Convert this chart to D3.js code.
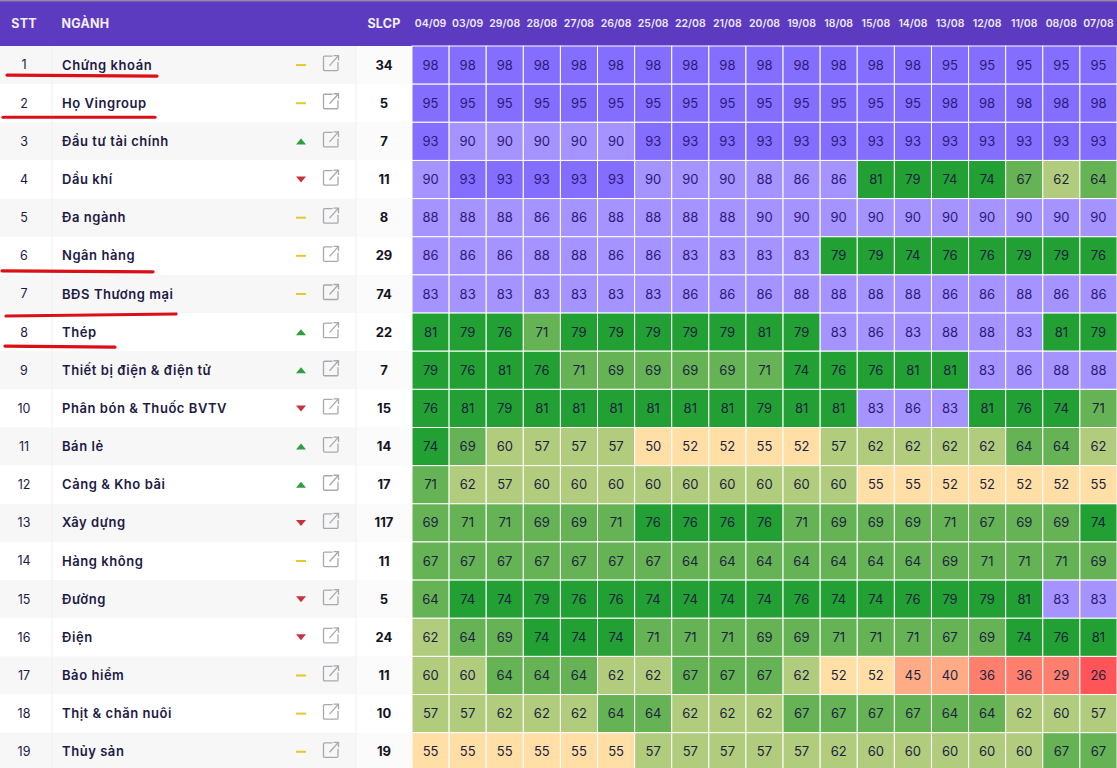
<!DOCTYPE html>
<html lang="vi">
<head>
<meta charset="utf-8">
<script src="https://cdn.jsdelivr.net/npm/d3@7"></script>
<style>
html,body{margin:0;padding:0;background:#fff;overflow:hidden}
svg{display:block}
text{font-family:"Inter","Noto Sans",sans-serif}
</style>
</head>
<body>
<svg id="chart" width="1117" height="768"></svg>
<script>
const dates = ["04/09","03/09","29/08","28/08","27/08","26/08","25/08","22/08","21/08","20/08","19/08","18/08","15/08","14/08","13/08","12/08","11/08","08/08","07/08"];
const sectors = ["Chứng khoán","Họ Vingroup","Đầu tư tài chính","Dầu khí","Đa ngành","Ngân hàng","BĐS Thương mại","Thép","Thiết bị điện & điện tử","Phân bón & Thuốc BVTV","Bán lẻ","Cảng & Kho bãi","Xây dựng","Hàng không","Đường","Điện","Bảo hiểm","Thịt & chăn nuôi","Thủy sản"];
const stockCounts = [34,5,7,11,8,29,74,22,7,15,14,17,117,11,5,24,11,10,19];
const trends = ["flat","flat","up","down","flat","flat","flat","up","up","down","up","up","down","flat","down","down","flat","flat","flat"];
const scores = [
[98,98,98,98,98,98,98,98,98,98,98,98,98,98,95,95,95,95,95],
[95,95,95,95,95,95,95,95,95,95,95,95,95,95,98,98,98,98,98],
[93,90,90,90,90,90,93,93,93,93,93,93,93,93,93,93,93,93,93],
[90,93,93,93,93,93,90,90,90,88,86,86,81,79,74,74,67,62,64],
[88,88,88,86,86,88,88,88,88,90,90,90,90,90,90,90,90,90,90],
[86,86,86,88,88,86,86,83,83,83,83,79,79,74,76,76,79,79,76],
[83,83,83,83,83,83,83,86,86,86,88,88,88,88,86,86,88,86,86],
[81,79,76,71,79,79,79,79,79,81,79,83,86,83,88,88,83,81,79],
[79,76,81,76,71,69,69,69,69,71,74,76,76,81,81,83,86,88,88],
[76,81,79,81,81,81,81,81,81,79,81,81,83,86,83,81,76,74,71],
[74,69,60,57,57,57,50,52,52,55,52,57,62,62,62,62,64,64,62],
[71,62,57,60,60,60,60,60,60,60,60,60,55,55,52,52,52,52,55],
[69,71,71,69,69,71,76,76,76,76,71,69,69,69,71,67,69,69,74],
[67,67,67,67,67,67,67,64,64,64,64,64,64,64,69,71,71,71,69],
[64,74,74,79,76,76,74,74,74,74,76,74,74,76,79,79,81,83,83],
[62,64,69,74,74,74,71,71,71,69,69,71,71,71,67,69,74,76,81],
[60,60,64,64,64,62,62,67,67,67,62,52,52,45,40,36,36,29,26],
[57,57,62,62,62,64,64,62,62,62,67,67,67,67,64,64,62,60,57],
[55,55,55,55,55,55,57,57,57,57,57,62,60,60,60,60,60,67,67]
];
const underlined = [
  {row:0, from:7, to:157, d0:10, d1:11},
  {row:1, from:3, to:155, d0:14, d1:14},
  {row:5, from:2, to:153, d0:15, d1:16},
  {row:6, from:6, to:176, d0:22, d1:20},
  {row:7, from:5, to:115, d0:14, d1:15}
];

const W = 1117, H = 768, headerH = 46, rowH = 38.15;
const svg = d3.select("#chart");
const rows = d3.range(sectors.length);

const x = d3.scaleBand().domain(dates).range([412, W]);
const y = d3.scaleBand().domain(rows).range([headerH, headerH + rowH * rows.length]);
const color = d3.scaleThreshold()
  .domain([28,38,50,57,64,74,83,93])
  .range(["#ff5558","#ff7f6f","#ffab85","#ffdfa6","#b2cc7e","#66b355","#22a033","#a593ff","#846eff"]);
const cellText = d3.scaleThreshold().domain([83]).range(["#1c2140","#2c1a78"]);
const trendColor = {up:"#2e9e3f", down:"#c8323f", flat:"#e8c62c"};

const ink = "#1d1a45";

// header
svg.append("rect").attr("width",W).attr("height",headerH).attr("fill","#5c3bc0");
svg.append("rect").attr("width",W).attr("height",1.5).attr("fill","#8f8aa8");

const headerLabels = [
  {t:"STT", x:24, a:"middle"},
  {t:"NGÀNH", x:61.5, a:"start"},
  {t:"SLCP", x:384, a:"middle"}
];
svg.append("g").selectAll("text").data(headerLabels).join("text")
  .attr("x",d=>d.x).attr("y",23.5).attr("dy","0.35em").attr("text-anchor",d=>d.a)
  .attr("fill","#f2effc").attr("font-size",12.5).attr("font-weight",700).attr("letter-spacing",0.2).text(d=>d.t);

svg.append("g").selectAll("text").data(dates).join("text")
  .attr("x",d=>x(d)+x.bandwidth()/2).attr("y",23.5).attr("dy","0.35em").attr("text-anchor","middle")
  .attr("fill","#ece8fa").attr("font-size",10.5).attr("font-weight",600).text(d=>d);

// row backgrounds
svg.append("g").selectAll("rect").data(rows).join("rect")
  .attr("x",0).attr("y",d=>y(d)).attr("width",412).attr("height",y.bandwidth())
  .attr("fill",d=>d%2===0?"#f7f7f8":"#ffffff");
svg.append("g").selectAll("rect").data(rows).join("rect")
  .attr("x",356).attr("y",d=>y(d)).attr("width",56).attr("height",y.bandwidth())
  .attr("fill",d=>d%2===0?"#fbfbfb":"#ffffff");
svg.append("g").selectAll("line").data([52,356]).join("line")
  .attr("x1",d=>d).attr("x2",d=>d).attr("y1",headerH).attr("y2",H+4)
  .attr("stroke","#f1f1f3").attr("stroke-width",1);

// labels
const rowG = svg.append("g").selectAll("g").data(rows).join("g")
  .attr("transform",d=>`translate(0,${y(d)+y.bandwidth()/2})`);
rowG.append("text").attr("x",24).attr("dy","0.35em").attr("text-anchor","middle")
  .attr("font-size",12.5).attr("font-weight",400).attr("fill",ink).text(d=>d+1);
rowG.append("text").attr("x",62).attr("dy","0.35em")
  .attr("font-size",13).attr("font-weight",600).attr("letter-spacing",0.55).attr("fill",ink).text(d=>sectors[d]);
rowG.append("text").attr("x",384).attr("dy","0.35em").attr("text-anchor","middle")
  .attr("font-size",13).attr("font-weight",700).attr("fill","#14141f").text(d=>stockCounts[d]);

// trend glyphs
rowG.append("path")
  .attr("transform","translate(301,0)")
  .attr("d",d=>trends[d]==="up"?"M-5,3L0,-3L5,3Z":trends[d]==="down"?"M-5,-3L5,-3L0,3Z":"M-5,-1H5V1H-5Z")
  .attr("fill",d=>trendColor[trends[d]]);

// open-in-new icons
const icon = rowG.append("g").attr("transform","translate(331,-2)")
  .attr("fill","none").attr("stroke","#a9a9ad").attr("stroke-width",1.3);
icon.append("path").attr("d","M1.5,-7H-6.5A1,1 0 0 0 -7.5,-6V6.5A1,1 0 0 0 -6.5,7.5H6A1,1 0 0 0 7,6.5V-1");
icon.append("path").attr("d","M-1.5,2.5L7.5,-7.5M2.5,-7.5H7.5V-2.5");

// cells
const cells = svg.append("g").selectAll("g").data(scores).join("g")
  .attr("transform",(d,i)=>`translate(0,${y(i)})`)
  .selectAll("g").data(d=>d.map((v,i)=>({v,date:dates[i]}))).join("g");
cells.append("rect")
  .attr("x",d=>x(d.date)).attr("y",0)
  .attr("width",x.bandwidth()).attr("height",y.bandwidth())
  .attr("fill",d=>color(d.v)).attr("stroke","#fff").attr("stroke-width",1);
cells.append("text")
  .attr("x",d=>x(d.date)+x.bandwidth()/2).attr("y",y.bandwidth()/2).attr("dy","0.35em")
  .attr("text-anchor","middle").attr("font-size",13).attr("font-weight",400)
  .attr("fill",d=>cellText(d.v)).text(d=>d.v);

// hand-drawn red underlines
svg.append("g").selectAll("line").data(underlined).join("line")
  .attr("x1",d=>d.from).attr("x2",d=>d.to)
  .attr("y1",d=>y(d.row)+y.bandwidth()/2+d.d0).attr("y2",d=>y(d.row)+y.bandwidth()/2+d.d1)
  .attr("stroke","#dd0f16").attr("stroke-width",3.2).attr("stroke-linecap","round");
</script>
</body>
</html>
